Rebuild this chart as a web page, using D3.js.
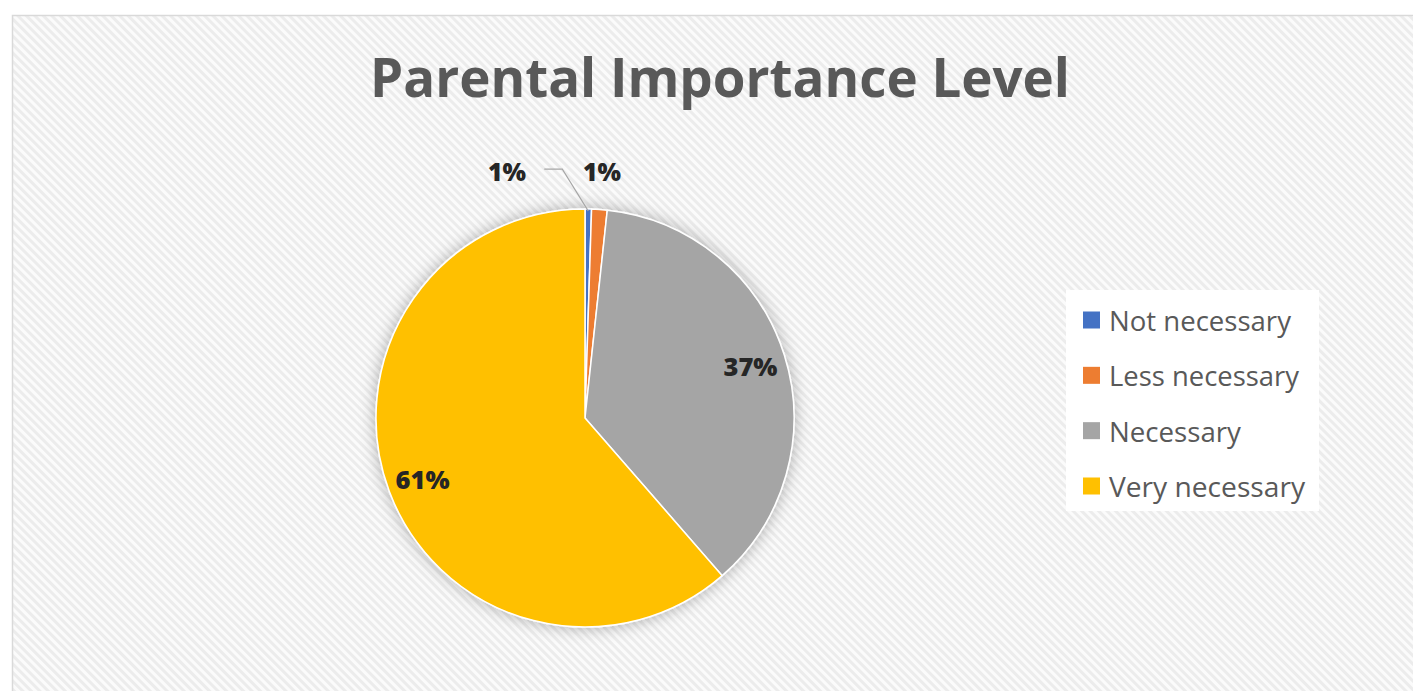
<!DOCTYPE html>
<html>
<head>
<meta charset="utf-8">
<script src="https://cdn.jsdelivr.net/npm/d3@7/dist/d3.min.js"></script>
<style>
  html, body { margin: 0; padding: 0; background: #ffffff; }
  svg { display: block; }
</style>
</head>
<body>
<svg id="chart" width="1413" height="691"></svg>
<script>
const title = "Parental Importance Level";
const categories = ["Not necessary", "Less necessary", "Necessary", "Very necessary"];
const values = [0.5, 1.2, 36.9, 61.4];
const valueLabels = ["1%", "1%", "37%", "61%"];
const colors = ["#4472c4", "#ed7d31", "#a5a5a5", "#ffc000"];

const W = 1413, H = 691;
const svg = d3.select("#chart");
const defs = svg.append("defs");

// diagonal stripe background pattern
const pat = defs.append("pattern")
  .attr("id", "stripes")
  .attr("patternUnits", "userSpaceOnUse")
  .attr("width", 6).attr("height", 6)
  .attr("patternTransform", "rotate(-45)");
pat.append("rect").attr("width", 6).attr("height", 6).attr("fill", "#fbfbfb");
pat.append("rect").attr("width", 3).attr("height", 6).attr("fill", "#ececec");

const shadow = defs.append("filter").attr("id", "shadow")
  .attr("x", "-20%").attr("y", "-20%").attr("width", "140%").attr("height", "140%");
shadow.append("feDropShadow").attr("dx", 0).attr("dy", 0)
  .attr("stdDeviation", 8).attr("flood-color", "#000").attr("flood-opacity", 0.3);

// chart frame
svg.append("rect").attr("x", 12.5).attr("y", 15.5).attr("width", W).attr("height", H)
  .attr("fill", "url(#stripes)").attr("stroke", "#d9d9d9").attr("stroke-width", 1.5);

function fit(sel, target) {
  const node = sel.node();
  const fs = parseFloat(sel.attr("font-size"));
  const w = node.getComputedTextLength();
  sel.attr("font-size", (fs * target / w).toFixed(2));
}

// title
const t = svg.append("text")
  .attr("x", 720).attr("y", 97)
  .attr("text-anchor", "middle")
  .attr("font-family", "'Open Sans', 'Noto Sans', sans-serif")
  .attr("font-weight", 700)
  .attr("font-size", 56)
  .attr("fill", "#595959")
  .text(title);
fit(t, 700);

// pie
const cx = 585, cy = 418, R = 209;
const pie = d3.pie().sort(null).value(d => d.v);
const data = pie(categories.map((c, i) => ({ c, v: values[i], label: valueLabels[i], color: colors[i] })));
const arc = d3.arc().innerRadius(0).outerRadius(R);
const labelArc = d3.arc().innerRadius(R * 0.83).outerRadius(R * 0.83);
const outArc = d3.arc().innerRadius(R + 38).outerRadius(R + 38);
const edgeArc = d3.arc().innerRadius(R - 2).outerRadius(R - 2);

const g = svg.append("g").attr("transform", `translate(${cx},${cy})`);
g.append("g").attr("filter", "url(#shadow)")
  .selectAll("path").data(data).join("path")
  .attr("d", arc)
  .attr("fill", d => d.data.color)
  .attr("stroke", "#ffffff")
  .attr("stroke-width", 1.5)
  .attr("stroke-linejoin", "round");

const labelFont = "'Open Sans', 'Noto Sans', sans-serif";
data.forEach((d, i) => {
  const small = (d.endAngle - d.startAngle) < 0.1;
  let x, y;
  if (!small) {
    [x, y] = labelArc.centroid(d);
  } else {
    [x, y] = outArc.centroid(d);
    if (i === 0) {
      // moved aside with leader line
      const [ex, ey] = edgeArc.centroid(d);
      x = x - 82;
      g.append("path")
        .attr("d", d3.line()([[ex, ey], [ex - 26, y - 2], [ex - 44, y - 2]]))
        .attr("fill", "none").attr("stroke", "#a6a6a6").attr("stroke-width", 1.3);
    }
  }
  const tx = g.append("text")
    .attr("x", x).attr("y", y)
    .attr("text-anchor", "middle")
    .attr("dominant-baseline", "central")
    .attr("font-family", labelFont)
    .attr("font-weight", 800)
    .attr("font-size", 24)
    .attr("fill", "#262626")
    .text(d.data.label);
  fit(tx, d.data.label.length === 2 ? 38 : 54);
});

// legend
const lg = svg.append("g");
lg.append("rect").attr("x", 1066).attr("y", 290).attr("width", 253).attr("height", 221)
  .attr("fill", "#ffffff");
const itemY = d3.scalePoint().domain(categories).range([320, 486]);
const widths = [182, 190, 132, 196];
categories.forEach((c, i) => {
  const y = itemY(c);
  lg.append("rect").attr("x", 1083).attr("y", y - 8.5).attr("width", 17).attr("height", 17)
    .attr("fill", colors[i]);
  const lt = lg.append("text")
    .attr("x", 1109).attr("y", y)
    .attr("dominant-baseline", "central")
    .attr("font-family", labelFont)
    .attr("font-size", 24)
    .attr("fill", "#595959")
    .text(c);
  fit(lt, widths[i]);
});
</script>
</body>
</html>
